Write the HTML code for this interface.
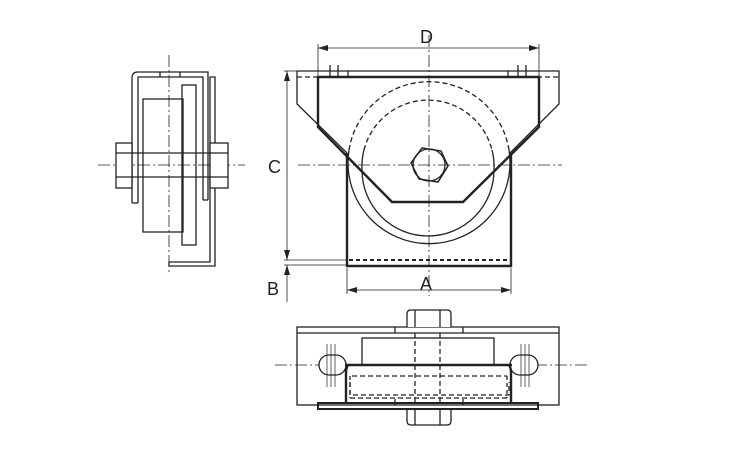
<!DOCTYPE html>
<html><head><meta charset="utf-8"><style>
html,body{margin:0;padding:0;background:#fff;}
svg{display:block;}
text{font-family:"Liberation Sans",sans-serif;font-size:18px;fill:#222;}
</style></head><body>
<svg width="750" height="450" viewBox="0 0 750 450" xmlns="http://www.w3.org/2000/svg">
<defs>
<marker id="ar" viewBox="0 0 10 6" refX="10" refY="3" markerWidth="10" markerHeight="6" orient="auto-start-reverse" markerUnits="userSpaceOnUse"><path d="M0,0 L10,3 L0,6 z" fill="#222"/></marker>
</defs>
<g fill="none" stroke="#222" stroke-width="1.3">
<!-- ===== SIDE VIEW ===== -->
<line x1="98" y1="165" x2="245" y2="165" stroke-dasharray="12,3,2,3" stroke-width="0.8"/>
<line x1="169" y1="55" x2="169" y2="272" stroke-dasharray="12,3,2,3" stroke-width="0.8"/>
<path d="M132,203 V78 Q132,72 138,72 H208 V200"/>
<path d="M138,203 V77 H203 V200"/>
<line x1="132" y1="203" x2="138" y2="203"/>
<line x1="203" y1="200" x2="208" y2="200"/>
<line x1="160" y1="72" x2="160" y2="77"/><line x1="180" y1="72" x2="180" y2="77"/>
<path d="M210,77 H215 V266 H169 V262 H210 Z"/>
<rect x="143" y="99" width="40" height="133"/>
<rect x="182" y="85" width="14" height="160"/>
<rect x="116" y="143" width="16" height="45" fill="#fff"/>
<rect x="210" y="143" width="18" height="45" fill="#fff"/>
<line x1="116" y1="153" x2="228" y2="153"/>
<line x1="116" y1="177" x2="228" y2="177"/>

<!-- ===== FRONT VIEW ===== -->
<line x1="298" y1="165" x2="562" y2="165" stroke-dasharray="12,3,2,3" stroke-width="0.8"/>
<line x1="429" y1="35" x2="429" y2="296" stroke-dasharray="12,3,2,3" stroke-width="0.8"/>
<path d="M297,71 H559 V104 L510,153"/>
<path d="M297,71 V104 L347,153"/>
<line x1="297" y1="77" x2="559" y2="77" stroke-dasharray="5,3"/>
<line x1="348" y1="71" x2="348" y2="77"/><line x1="508" y1="71" x2="508" y2="77"/>
<line x1="330" y1="65" x2="330" y2="77"/><line x1="338" y1="65" x2="338" y2="77"/>
<line x1="518" y1="65" x2="518" y2="77"/><line x1="526" y1="65" x2="526" y2="77"/>
<path d="M318,77 H539 V127 L463,202 H392 L318,127 Z" stroke-width="2.4"/>
<path d="M347,153 V266 H511 V153" stroke-width="2.4"/>
<line x1="349" y1="260" x2="509" y2="260" stroke-width="2" stroke-dasharray="4,3"/>
<!-- wheel circles -->
<path d="M349,150 A81,81 0 1 0 509,150" />
<path d="M349,150 A81,81 0 0 1 509,150" stroke-dasharray="5,3"/>
<path d="M364,150 A66,66 0 0 0 362,170 A66,66 0 0 0 494,170 A66,66 0 0 0 492,150"/>
<path d="M364,150 A66,66 0 0 1 492,150" stroke-dasharray="5,3"/>
<!-- hex -->
<polygon points="422,148 441,151 448,166 438,182 419,179 411,163" stroke-width="1.5"/>
<circle cx="429" cy="165" r="16"/>
<!-- dims -->
<line x1="318" y1="44" x2="318" y2="77" stroke-width="0.8"/>
<line x1="539" y1="44" x2="539" y2="77" stroke-width="0.8"/>
<line x1="318" y1="48" x2="539" y2="48" stroke-width="0.8" marker-start="url(#ar)" marker-end="url(#ar)"/>
<line x1="284" y1="71" x2="297" y2="71" stroke-width="0.8"/>
<line x1="284" y1="260" x2="347" y2="260" stroke-width="0.8"/>
<line x1="284" y1="265" x2="347" y2="265" stroke-width="0.8"/>
<line x1="287" y1="71" x2="287" y2="260" stroke-width="0.8" marker-start="url(#ar)" marker-end="url(#ar)"/>
<line x1="287" y1="302" x2="287" y2="265" stroke-width="0.8" marker-end="url(#ar)"/>
<line x1="347" y1="268" x2="347" y2="294" stroke-width="0.8"/>
<line x1="511" y1="268" x2="511" y2="294" stroke-width="0.8"/>
<line x1="347" y1="290" x2="511" y2="290" stroke-width="0.8" marker-start="url(#ar)" marker-end="url(#ar)"/>

<!-- ===== BOTTOM VIEW ===== -->
<line x1="275" y1="365" x2="588" y2="365" stroke-dasharray="12,3,2,3" stroke-width="0.8"/>
<rect x="297" y="327" width="262" height="78"/>
<line x1="297" y1="333" x2="559" y2="333"/>
<line x1="395" y1="327" x2="395" y2="333"/><line x1="463" y1="327" x2="463" y2="333"/>
<line x1="395" y1="399" x2="395" y2="405"/><line x1="463" y1="399" x2="463" y2="405"/>
<path d="M407,327 V314 Q407,310 411,310 H447 Q451,310 451,314 V327" fill="#fff"/>
<path d="M407,409 V421 Q407,425 411,425 H447 Q451,425 451,421 V409" fill="#fff"/>
<line x1="415" y1="310" x2="415" y2="327"/><line x1="440" y1="310" x2="440" y2="327"/>
<line x1="415" y1="409" x2="415" y2="425"/><line x1="440" y1="409" x2="440" y2="425"/>
<rect x="362" y="338" width="132" height="27"/>
<line x1="415" y1="333" x2="415" y2="405" stroke-dasharray="5,3"/>
<line x1="440" y1="333" x2="440" y2="405" stroke-dasharray="5,3"/>
<path d="M352,376 H507 M350,382 V395 H509 V382 M350,398 H509" stroke-dasharray="5,3"/>
<line x1="350" y1="376" x2="350" y2="398" stroke-dasharray="4,3"/>
<line x1="507" y1="376" x2="507" y2="398" stroke-dasharray="4,3"/>
<rect x="319" y="355" width="27" height="20" rx="10" fill="#fff"/>
<rect x="510" y="355" width="28" height="20" rx="10" fill="#fff"/>
<line x1="327" y1="344" x2="327" y2="387" stroke-width="0.7"/><line x1="331" y1="344" x2="331" y2="387" stroke-width="0.7"/><line x1="335" y1="344" x2="335" y2="387" stroke-width="0.7"/>
<line x1="521" y1="344" x2="521" y2="387" stroke-width="0.7"/><line x1="525" y1="344" x2="525" y2="387" stroke-width="0.7"/><line x1="529" y1="344" x2="529" y2="387" stroke-width="0.7"/>
<line x1="345" y1="365" x2="512" y2="365" stroke-width="2.4"/>
<path d="M348,365 Q346,368 346,372 V403 M509,365 Q511,368 511,372 V403" stroke-width="2.4"/>
<rect x="318" y="403" width="220" height="6" stroke-width="2"/>
</g>
<text x="420" y="43">D</text>
<text x="268" y="173">C</text>
<text x="267" y="295">B</text>
<text x="420" y="290">A</text>
</svg>
</body></html>
